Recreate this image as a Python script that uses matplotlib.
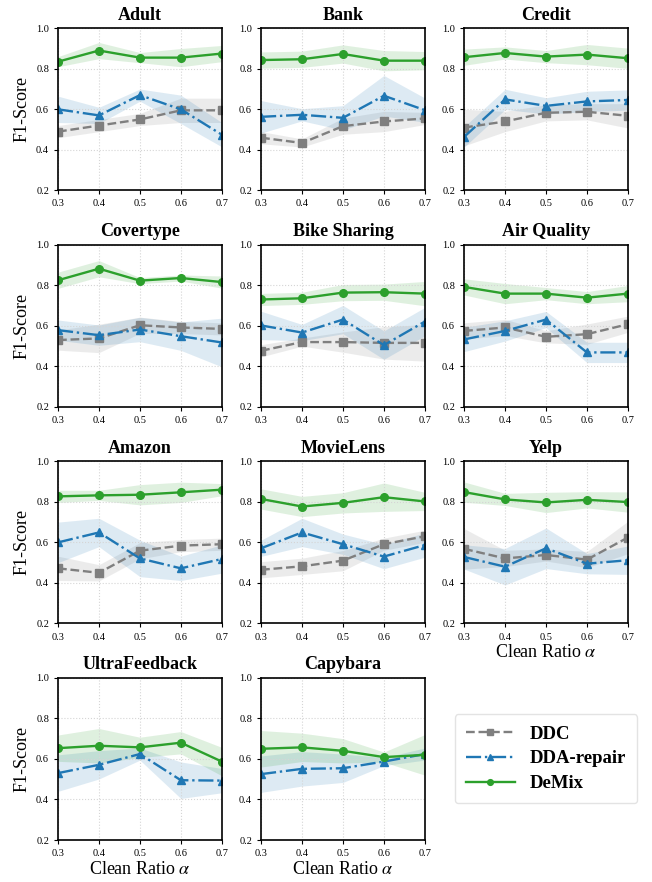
import matplotlib
matplotlib.use("Agg")
import matplotlib.pyplot as plt
import numpy as np

plt.rcParams['font.family'] = ['Liberation Serif', 'DejaVu Serif']
plt.rcParams['mathtext.fontset'] = 'stix'

ratios = [0.3, 0.4, 0.5, 0.6, 0.7]
datasets = ["Adult", "Bank", "Credit", "Covertype", "Bike Sharing", "Air Quality",
            "Amazon", "MovieLens", "Yelp", "UltraFeedback", "Capybara"]

# DDC (no results for the two LLM datasets)
ddc_mean = [
    [0.49, 0.52, 0.55, 0.595, 0.595],
    [0.46, 0.434, 0.517, 0.54, 0.555],
    [0.51, 0.54, 0.583, 0.588, 0.568],
    [0.53, 0.538, 0.603, 0.592, 0.585],
    [0.477, 0.52, 0.52, 0.516, 0.516],
    [0.575, 0.592, 0.546, 0.559, 0.608],
    [0.472, 0.45, 0.559, 0.584, 0.591],
    [0.465, 0.482, 0.51, 0.591, 0.63],
    [0.568, 0.521, 0.538, 0.515, 0.624],
    None,
    None,
]
ddc_sd = [
    [0.03, 0.03, 0.03, 0.06, 0.06],
    [0.03, 0.02, 0.04, 0.05, 0.03],
    [0.09, 0.05, 0.04, 0.04, 0.06],
    [0.05, 0.07, 0.04, 0.03, 0.03],
    [0.03, 0.02, 0.05, 0.08, 0.09],
    [0.04, 0.04, 0.03, 0.05, 0.04],
    [0.06, 0.04, 0.04, 0.03, 0.03],
    [0.04, 0.04, 0.05, 0.03, 0.03],
    [0.10, 0.04, 0.03, 0.04, 0.08],
    None,
    None,
]

dda_mean = [
    [0.60, 0.57, 0.67, 0.60, 0.475],
    [0.563, 0.573, 0.558, 0.667, 0.596],
    [0.464, 0.649, 0.617, 0.639, 0.646],
    [0.579, 0.554, 0.582, 0.549, 0.518],
    [0.602, 0.567, 0.631, 0.505, 0.621],
    [0.533, 0.575, 0.631, 0.469, 0.469],
    [0.60, 0.649, 0.521, 0.472, 0.518],
    [0.571, 0.649, 0.591, 0.53, 0.587],
    [0.528, 0.48, 0.571, 0.495, 0.512],
    [0.53, 0.571, 0.624, 0.495, 0.493],
    [0.525, 0.551, 0.554, 0.587, 0.624],
]
dda_sd = [
    [0.065, 0.04, 0.03, 0.07, 0.06],
    [0.08, 0.03, 0.06, 0.10, 0.06],
    [0.05, 0.05, 0.04, 0.05, 0.05],
    [0.05, 0.05, 0.06, 0.07, 0.12],
    [0.07, 0.04, 0.07, 0.07, 0.07],
    [0.06, 0.05, 0.04, 0.05, 0.05],
    [0.10, 0.07, 0.09, 0.06, 0.07],
    [0.04, 0.07, 0.05, 0.06, 0.06],
    [0.06, 0.09, 0.10, 0.05, 0.07],
    [0.09, 0.07, 0.03, 0.09, 0.06],
    [0.09, 0.085, 0.07, 0.02, 0.03],
]

demix_mean = [
    [0.835, 0.89, 0.855, 0.855, 0.875],
    [0.843, 0.847, 0.873, 0.84, 0.84],
    [0.857, 0.878, 0.86, 0.87, 0.852],
    [0.825, 0.882, 0.823, 0.836, 0.816],
    [0.73, 0.736, 0.764, 0.766, 0.759],
    [0.792, 0.759, 0.759, 0.739, 0.759],
    [0.827, 0.832, 0.835, 0.847, 0.86],
    [0.814, 0.777, 0.795, 0.823, 0.802],
    [0.848, 0.812, 0.797, 0.81, 0.799],
    [0.653, 0.665, 0.657, 0.68, 0.587],
    [0.65, 0.657, 0.64, 0.609, 0.62],
]
demix_sd = [
    [0.025, 0.04, 0.025, 0.045, 0.04],
    [0.04, 0.04, 0.045, 0.05, 0.045],
    [0.04, 0.03, 0.03, 0.05, 0.05],
    [0.04, 0.04, 0.015, 0.015, 0.03],
    [0.03, 0.03, 0.04, 0.04, 0.06],
    [0.04, 0.05, 0.03, 0.03, 0.04],
    [0.03, 0.025, 0.05, 0.05, 0.03],
    [0.05, 0.05, 0.05, 0.07, 0.045],
    [0.05, 0.03, 0.05, 0.04, 0.05],
    [0.065, 0.085, 0.05, 0.055, 0.07],
    [0.09, 0.07, 0.06, 0.025, 0.1],
]

methods = [
    ("DDC", ddc_mean, ddc_sd, "#7f7f7f", "--", "s"),
    ("DDA-repair", dda_mean, dda_sd, "#1f77b4", "-.", "^"),
    ("DeMix", demix_mean, demix_sd, "#2ca02c", "-", "o"),
]

fig, axes = plt.subplots(4, 3, figsize=(6.52, 8.82), dpi=100)
fig.subplots_adjust(left=0.089, right=0.963, top=0.968, bottom=0.0476,
                    wspace=0.24, hspace=0.335)
axes = axes.flatten()
x = np.array(ratios)

for i, name in enumerate(datasets):
    ax = axes[i]
    for label, means, sds, color, ls, mk in methods:
        if means[i] is None:
            continue
        m = np.array(means[i])
        s = np.array(sds[i])
        ax.fill_between(x, m - s, m + s, color=color, alpha=0.15, linewidth=0)
        ax.plot(x, m, color=color, linestyle=ls, marker=mk, linewidth=1.7,
                markersize=5.5, label=label)
    ax.set_title(name, fontsize=13, fontweight='bold', pad=6)
    ax.set_xlim(0.3, 0.7)
    ax.set_ylim(0.2, 1.0)
    ax.set_xticks(ratios)
    ax.set_yticks([0.2, 0.4, 0.6, 0.8, 1.0])
    ax.tick_params(labelsize=7.5, length=3, width=0.8)
    ax.grid(True, linestyle=':', color='#d5d5d5', linewidth=0.8)
    for sp in ax.spines.values():
        sp.set_linewidth(1.2)
    if i % 3 == 0:
        ax.set_ylabel("F1-Score", fontsize=13)
    if i >= 8:
        ax.set_xlabel(r"Clean Ratio $\alpha$", fontsize=13, labelpad=2)

axes[11].axis('off')
handles, labels = axes[0].get_legend_handles_labels()
leg = axes[11].legend(handles, labels, loc='center', handlelength=2.6,
                      markerscale=0.75,
                      prop={'weight': 'bold', 'size': 13.5}, frameon=True,
                      fancybox=True, borderpad=0.6, labelspacing=0.4)
leg.get_frame().set_edgecolor('#dddddd')

fig.savefig("out.png", dpi=100)
